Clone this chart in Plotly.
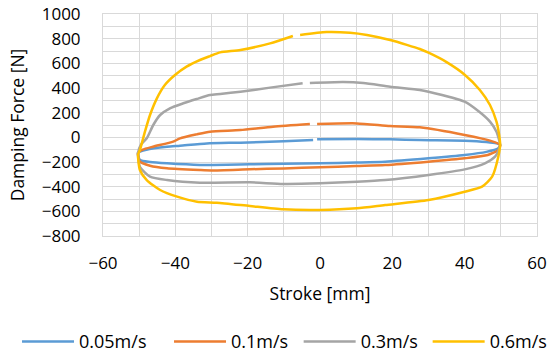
import plotly.graph_objects as go

# Stroke [mm] and damping force [N], each loop traced in drawing order
# (starting just after the small break on the upper branch)
stroke_005 = [-0.8, 10, 19.4, 27.6, 40, 46, 48.8, 49.8,
              49.3, 46, 40, 30, 18, 10, 0, -10, -19.4, -33.2, -42.3, -47, -49.8, -50.3,
              -48, -42.3, -38.7, -31.3, -22, -10, -1.9]
force_005 = [-16, -14, -16, -22, -27, -38, -49, -62,
             -89, -118, -143, -170, -197, -204, -211, -215, -219, -224, -211, -200, -184, -125,
             -100, -76, -68, -49, -43, -32, -22]

stroke_01 = [-0.8, 10.2, 19.4, 27.6, 40, 47, 49.8,
             49.3, 46.4, 40, 30, 18, 10, 0, -10, -19.4, -30, -33.2, -42.3, -47, -49.8, -50.3,
             -49, -46.2, -40.6, -38.7, -34.1, -30.4, -22, -13, -2.8]
force_01 = [108, 113, 92, 81, 19, -27, -62,
            -103, -143, -170, -197, -224, -232, -243, -252, -259, -268, -265, -251, -230, -197, -125,
            -100, -76, -35, -8, 24, 46, 59, 86, 108]

stroke_03 = [-2.8, 6.4, 12, 19.4, 27.6, 30, 40, 44.2, 47, 48.8, 49.5, 49.8,
             49.3, 48.4, 45.6, 40, 30, 18, 10.2, 0, -10.2, -19.4, -33.2, -42.3, -47, -49.8, -50.3,
             -49.5, -47.9, -46.1, -44.2, -41.5, -37.8, -34.1, -30.4, -27.6, -22, -13.8, -4.8]
force_03 = [441, 449, 440, 411, 384, 370, 289, 203, 127, 46, -20, -62,
            -110, -157, -211, -260, -305, -346, -360, -373, -378, -365, -368, -346, -319, -238, -125,
            -60, -8, 100, 181, 235, 276, 311, 343, 351, 370, 403, 438]

stroke_06 = [-5.5, 1.8, 8.3, 13, 19.4, 24, 27.6, 30, 35, 40, 44.2, 47, 48.8, 49.5, 49.8,
             49.3, 47.6, 44.8, 40, 30, 18, 10.2, 0, -10.2, -19.4, -28.5, -34, -39.5, -44.2, -47.9, -49.8, -50.3,
             -49.8, -48.4, -47, -45.1, -42.9, -40.1, -36.9, -33.2, -30.4, -27.6, -22, -13.8, -7.5]
force_06 = [830, 854, 848, 830, 789, 750, 716, 686, 610, 508, 384, 262, 127, 25, -62,
            -157, -319, -400, -441, -508, -549, -576, -589, -584, -557, -530, -522, -481, -427, -346, -265, -140,
            -103, 46, 181, 316, 424, 505, 573, 627, 659, 689, 708, 762, 822]

series_names = ["0.05m/s", "0.1m/s", "0.3m/s", "0.6m/s"]
series_x = [stroke_005, stroke_01, stroke_03, stroke_06]
series_y = [force_005, force_01, force_03, force_06]
colors = ["#5B9BD5", "#ED7D31", "#A5A5A5", "#FFC000"]
legend_ids = ["legend", "legend", "legend2", "legend2"]

FONT = "Open Sans"
GRID = "#d9d9d9"

fig = go.Figure()
for name, xs, ys, c, lg in zip(series_names, series_x, series_y, colors, legend_ids):
    fig.add_trace(go.Scatter(
        x=xs, y=ys, mode="lines", name=name, legend=lg,
        line=dict(color=c, width=2.5, shape="spline", smoothing=0.6),
    ))

legend_common = dict(
    orientation="h", xref="container", yref="container",
    xanchor="left", y=0.04, yanchor="middle",
    font=dict(family=FONT, size=18, color="#000000"),
    itemwidth=52, traceorder="normal", entrywidthmode="pixels",
)

fig.update_layout(
    width=549, height=356,
    margin=dict(l=103, r=12, t=14, b=120),
    paper_bgcolor="white", plot_bgcolor="white",
    font=dict(family=FONT, size=17, color="#000000"),
    showlegend=True,
    legend=dict(legend_common, x=0.031, entrywidth=85),
    legend2=dict(legend_common, x=0.544, entrywidth=62),
)

fig.update_xaxes(
    range=[-60, 60], dtick=20, tick0=-60,
    showgrid=True, gridcolor=GRID, gridwidth=1,
    minor=dict(dtick=10, showgrid=True, gridcolor=GRID, gridwidth=1),
    zeroline=True, zerolinecolor=GRID, zerolinewidth=1,
    showline=True, linecolor=GRID, linewidth=1, mirror=True,
    ticks="outside", ticklen=12, tickcolor="rgba(0,0,0,0)",
    tickfont=dict(family=FONT, size=17, color="#000000"),
    title=dict(text="Stroke [mm]", font=dict(family=FONT, size=17.5, color="#000000"), standoff=14),
    automargin=False,
)
fig.update_yaxes(
    range=[-800, 1000], dtick=200, tick0=-800,
    showgrid=True, gridcolor=GRID, gridwidth=1,
    minor=dict(dtick=100, showgrid=True, gridcolor=GRID, gridwidth=1),
    zeroline=True, zerolinecolor=GRID, zerolinewidth=1,
    showline=True, linecolor=GRID, linewidth=1, mirror=True,
    ticks="outside", ticklen=18, tickcolor="rgba(0,0,0,0)",
    tickfont=dict(family=FONT, size=17, color="#000000"),
    title=dict(text="Damping Force [N]", font=dict(family=FONT, size=17.5, color="#000000"), standoff=12),
    automargin=False,
)

fig.write_html("out.html")
